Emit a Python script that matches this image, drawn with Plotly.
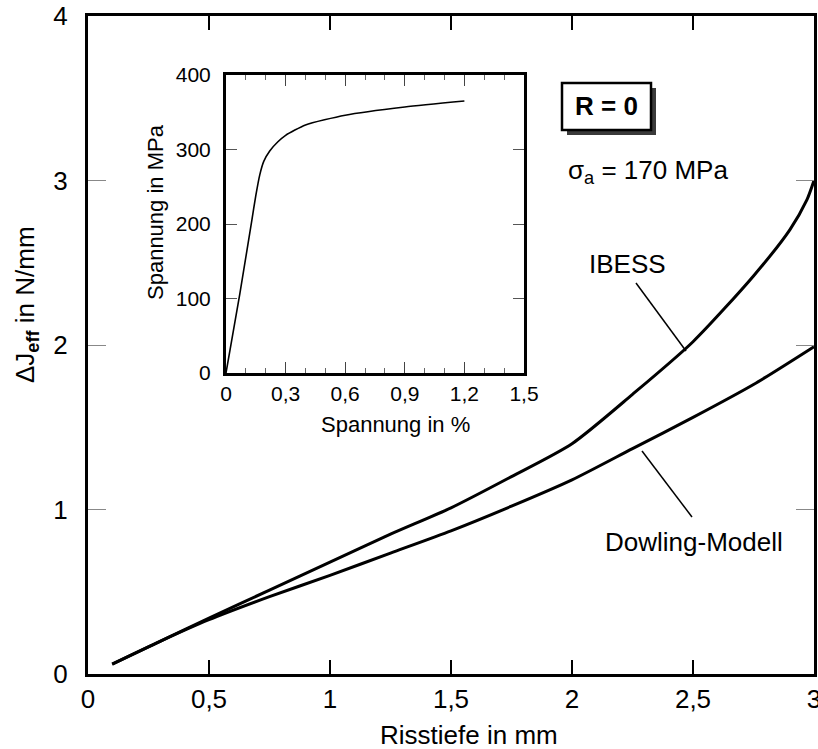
import plotly.graph_objects as go

# ---------------- data ----------------
# main chart: crack depth (mm) vs. Delta J_eff (N/mm)
riss_ibess = [0.1, 0.3, 0.5, 0.75, 1.0, 1.25, 1.5, 1.75, 2.0, 2.25, 2.5, 2.75, 2.9, 2.97, 3.0]
dj_ibess = [0.06, 0.20, 0.34, 0.51, 0.68, 0.85, 1.01, 1.20, 1.40, 1.70, 2.02, 2.42, 2.70, 2.88, 3.0]

riss_dowling = [0.1, 0.3, 0.5, 0.75, 1.0, 1.25, 1.5, 1.75, 2.0, 2.25, 2.5, 2.75, 3.0]
dj_dowling = [0.06, 0.20, 0.33, 0.47, 0.60, 0.735, 0.87, 1.02, 1.18, 1.37, 1.56, 1.76, 1.99]

# inset: stress-strain curve
dehnung = [0, 0.07, 0.13, 0.15, 0.17, 0.19, 0.22, 0.26, 0.30, 0.40, 0.60, 0.90, 1.20]
spannung = [0, 107, 205, 238, 266, 284, 298, 310, 319, 333, 346, 357, 365]

x_ticks = [0, 0.5, 1, 1.5, 2, 2.5, 3]
x_ticktext = ["0", "0,5", "1", "1,5", "2", "2,5", "3"]
y_ticks = [0, 1, 2, 3, 4]
y_ticktext = ["0", "1", "2", "3", "4"]
ix_ticks = [0, 0.3, 0.6, 0.9, 1.2, 1.5]
ix_ticktext = ["0", "0,3", "0,6", "0,9", "1,2", "1,5"]
iy_ticks = [0, 100, 200, 300, 400]
iy_ticktext = ["0", "100", "200", "300", "400"]

# ---------------- layout helpers ----------------
W, H = 818, 749
L, R, T, B = 88, 4, 16, 75
PW, PH = W - L - R, H - T - B
FONT = "Liberation Sans, Arial, Helvetica, sans-serif"


def px(x):
    return (x - L) / PW


def py(y):
    return (H - B - y) / PH


fig = go.Figure()

fig.add_trace(go.Scatter(x=riss_ibess, y=dj_ibess, mode="lines",
                         line=dict(color="black", width=3, shape="spline", smoothing=0.7),
                         showlegend=False, hoverinfo="skip"))
fig.add_trace(go.Scatter(x=riss_dowling, y=dj_dowling, mode="lines",
                         line=dict(color="black", width=3, shape="spline", smoothing=0.7),
                         showlegend=False, hoverinfo="skip"))
fig.add_trace(go.Scatter(x=dehnung, y=spannung, mode="lines", xaxis="x2", yaxis="y2",
                         line=dict(color="black", width=1.6, shape="spline", smoothing=0.6),
                         showlegend=False, hoverinfo="skip"))

ix0, ix1, iy0, iy1 = 226, 524, 75, 373

fig.update_layout(
    width=W, height=H, autosize=False,
    margin=dict(l=L, r=R, t=T, b=B, pad=0),
    paper_bgcolor="white", plot_bgcolor="white",
    font=dict(family=FONT, size=26, color="black"),
    xaxis=dict(range=[0, 3], tickvals=x_ticks, ticktext=x_ticktext,
               showgrid=False, zeroline=False, showline=True, linecolor="black", linewidth=3,
               mirror="ticks", ticks="inside", ticklen=14, tickwidth=2, tickcolor="black",
               ticklabelstandoff=0, ticklabeloverflow="allow", automargin=False,
               tickfont=dict(size=26)),
    yaxis=dict(range=[0, 4], tickvals=y_ticks, ticktext=y_ticktext,
               showgrid=False, zeroline=False, showline=True, linecolor="black", linewidth=3,
               mirror="ticks", ticks="inside", ticklen=18, tickwidth=1, tickcolor="#888",
               ticklabelstandoff=12, ticklabeloverflow="allow", automargin=False,
               tickfont=dict(size=26)),
    xaxis2=dict(domain=[px(ix0), px(ix1)], anchor="y2", range=[0, 1.5],
                tickvals=ix_ticks, ticktext=ix_ticktext,
                showgrid=False, zeroline=False, showline=True, linecolor="black", linewidth=3,
                mirror="ticks", ticks="inside", ticklen=11, tickwidth=1.2, tickcolor="#444",
                minor=dict(dtick=0.1, tick0=0, ticks="inside", ticklen=5, tickwidth=1, tickcolor="#666"),
                ticklabelstandoff=0, ticklabeloverflow="allow", automargin=False,
                tickfont=dict(size=21)),
    yaxis2=dict(domain=[py(iy1), py(iy0)], anchor="x2", range=[0, 400],
                tickvals=iy_ticks, ticktext=iy_ticktext,
                showgrid=False, zeroline=False, showline=True, linecolor="black", linewidth=3,
                mirror="ticks", ticks="inside", ticklen=11, tickwidth=1, tickcolor="#555",
                ticklabelstandoff=8, ticklabeloverflow="allow", automargin=False,
                tickfont=dict(size=21)),
)

shapes = []
# R = 0 box with shadow
shapes.append(dict(type="rect", xref="paper", yref="paper",
                   x0=px(567), x1=px(656), y0=py(135), y1=py(88),
                   fillcolor="#3a3a3a", line=dict(width=0), layer="above"))
shapes.append(dict(type="rect", xref="paper", yref="paper",
                   x0=px(562), x1=px(651), y0=py(130), y1=py(83),
                   fillcolor="white", line=dict(color="black", width=2.5), layer="above"))
# leader lines
shapes.append(dict(type="line", xref="paper", yref="paper",
                   x0=px(636), y0=py(283), x1=px(686), y1=py(351),
                   line=dict(color="black", width=1.5)))
shapes.append(dict(type="line", xref="paper", yref="paper",
                   x0=px(642), y0=py(451), x1=px(692), y1=py(517),
                   line=dict(color="black", width=1.5)))
fig.update_layout(shapes=shapes)

ann = []


def add_text(text, x, y, size=26, xanchor="center", yanchor="middle", angle=0):
    ann.append(dict(text=text, xref="paper", yref="paper", x=px(x), y=py(y),
                    xanchor=xanchor, yanchor=yanchor, showarrow=False, textangle=angle,
                    font=dict(family=FONT, size=size, color="black")))


add_text("<b>R = 0</b>", 606, 106, size=26)
add_text("σ<sub>a</sub> = 170 MPa", 566, 172, size=26, xanchor="left")
add_text("IBESS", 627, 264, size=26)
add_text("Dowling-Modell", 694, 542, size=26)
add_text("Risstiefe in mm", 469, 735, size=26)
add_text("ΔJ<sub><b>eff</b></sub> in N/mm", 26, 305, size=26, angle=-90)
add_text("Spannung in %", 395, 424, size=22)
add_text("Spannung in MPa", 155, 212, size=22, angle=-90)
fig.update_layout(annotations=ann)

fig.write_html(
    "out.html",
    config={"displayModeBar": False},
    post_script="document.body.style.margin='0';"
                "document.body.style.overflow='hidden';"
                "document.documentElement.style.overflow='hidden';",
)
